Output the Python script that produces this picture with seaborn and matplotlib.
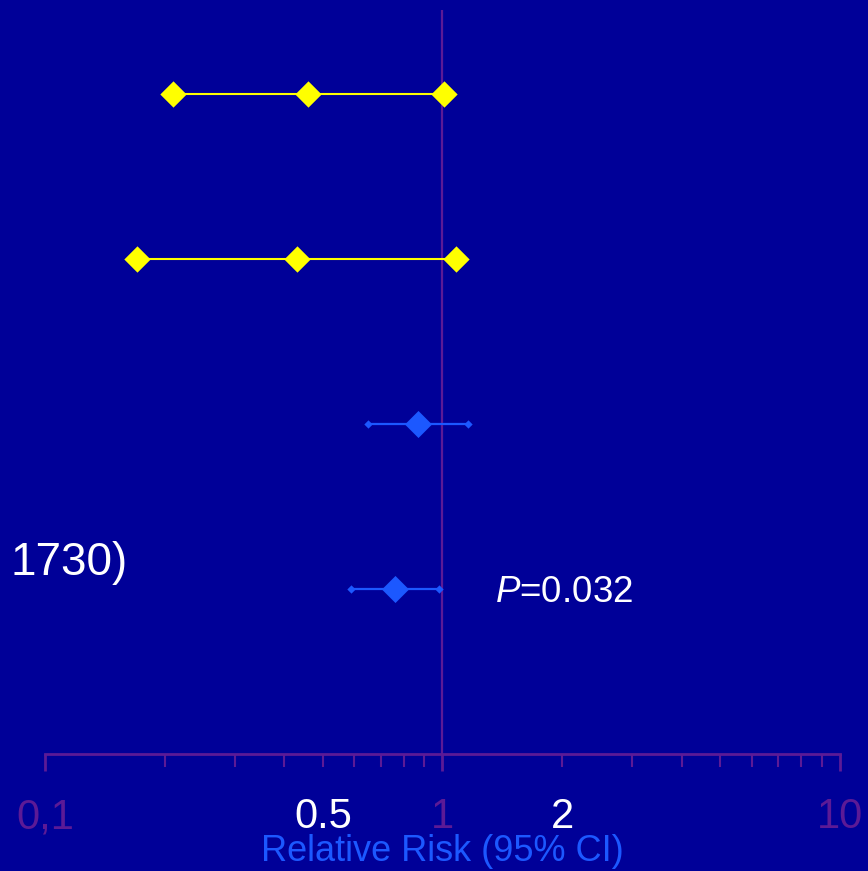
import matplotlib
matplotlib.use("Agg")
import matplotlib.pyplot as plt
import seaborn as sns
import pandas as pd
from matplotlib.ticker import FixedLocator, NullFormatter

# Forest-plot values (relative risk, 95% CI)
rows_yellow = [0, 1]
low_yellow = [0.21, 0.17]
est_yellow = [0.46, 0.43]
high_yellow = [1.01, 1.08]

rows_blue = [2, 3]
est_blue = [0.87, 0.76]
low_blue = [0.65, 0.59]
high_blue = [1.16, 0.98]

tick_values = [0.1, 0.5, 1, 2, 10]
tick_labels = ["0,1", "0.5", "1", "2", "10"]
long_ticks = [0.1, 1, 10]
minor_values = [0.2, 0.3, 0.4, 0.6, 0.7, 0.8, 0.9, 3, 4, 5, 6, 7, 8, 9]

BG = "#000098"
PURPLE = "#5c1a96"
YELLOW = "#ffff00"
BLUE = "#1c58ff"
label_colors = [PURPLE, "white", PURPLE, "white", PURPLE]

sns.set_theme(style="white")
plt.rcParams["font.family"] = ["Liberation Sans", "DejaVu Sans"]
plt.rcParams["mathtext.fontset"] = "custom"
plt.rcParams["mathtext.rm"] = "Liberation Sans"
plt.rcParams["mathtext.it"] = "Liberation Sans:italic"

fig = plt.figure(figsize=(8.68, 8.71), dpi=100, facecolor=BG)
ax = fig.add_axes([45 / 868, 117 / 871, 795 / 868, 744 / 871])
ax.set_facecolor(BG)

# reference line at RR = 1
ax.axvline(1, color=PURPLE, lw=1.6, zorder=1)

# yellow rows: three diamonds joined by a line
for r, lo, hi in zip(rows_yellow, low_yellow, high_yellow):
    ax.plot([lo, hi], [r, r], color=YELLOW, lw=1.5, zorder=2)
ydf = pd.DataFrame({
    "rr": low_yellow + est_yellow + high_yellow,
    "row": rows_yellow * 3,
})
sns.scatterplot(data=ydf, x="rr", y="row", marker="D", s=180, color=YELLOW,
                linewidth=0, ax=ax, zorder=3)

# blue rows: point estimate with whiskers
for r, lo, hi in zip(rows_blue, low_blue, high_blue):
    ax.plot([lo, hi], [r, r], color=BLUE, lw=1.6, zorder=2)
capdf = pd.DataFrame({"rr": low_blue + high_blue, "row": rows_blue * 2})
sns.scatterplot(data=capdf, x="rr", y="row", marker="D", s=18, color=BLUE,
                linewidth=0, ax=ax, zorder=3)
bdf = pd.DataFrame({"rr": est_blue, "row": rows_blue})
sns.scatterplot(data=bdf, x="rr", y="row", marker="D", s=190, color=BLUE,
                linewidth=0, ax=ax, zorder=4)

ax.set_xscale("log")
ax.set_xlim(0.1, 10)
ax.set_ylim(4.0, -0.51)

for side in ["top", "right", "left"]:
    ax.spines[side].set_visible(False)
ax.spines["bottom"].set_color(PURPLE)
ax.spines["bottom"].set_linewidth(2)

ax.xaxis.set_major_locator(FixedLocator(tick_values))
ax.set_xticklabels(tick_labels)
ax.xaxis.set_minor_locator(FixedLocator(minor_values))
ax.xaxis.set_minor_formatter(NullFormatter())
ax.tick_params(axis="x", which="major", direction="out", length=9, width=1.5,
               color=PURPLE, labelsize=30, pad=22, bottom=True)
ax.tick_params(axis="x", which="minor", direction="out", length=9, width=1.5,
               color=PURPLE, bottom=True)
# decades get a longer tick
for tick, val in zip(ax.xaxis.get_major_ticks(), tick_values):
    if val in long_ticks:
        tick.tick1line.set_markersize(12)
        tick.tick1line.set_markeredgewidth(2)
for lab, c in zip(ax.get_xticklabels(), label_colors):
    lab.set_color(c)
ax.set_yticks([])
ax.set_ylabel("")
ax.set_xlabel("Relative Risk (95% CI)", color=BLUE, fontsize=26, labelpad=-2)

fig.text(10 / 868, 1 - 563 / 871, "1730)", color="white", fontsize=33,
         ha="left", va="center")
ax.text(1.355, 3.02, r"$\it{P}$=0.032", color="white", fontsize=26.5,
        ha="left", va="center")

fig.savefig("out.png", dpi=100, facecolor=BG)
